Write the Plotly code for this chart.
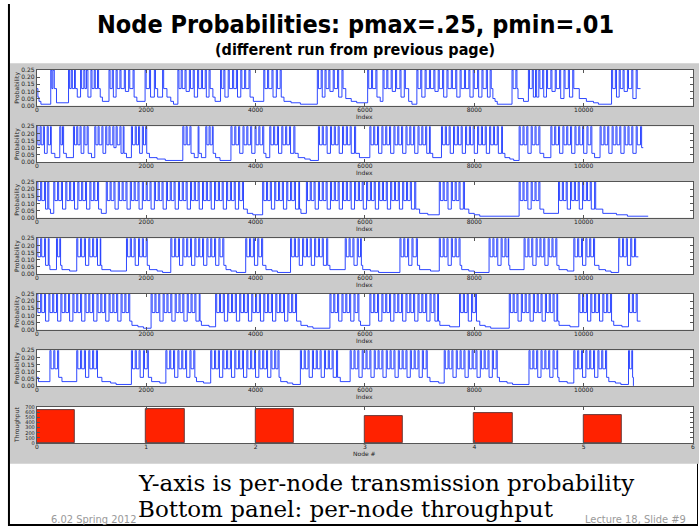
import plotly.graph_objects as go

# ---------------- data ----------------
# each node: list of (index, probability) step points
node1 = [(0,0.12),(20,0.06),(40,0.03),(75,0.01),
 (255,0.25),(275,0.12),(295,0.25),(320,0.12),(360,0.02),
 (580,0.25),(600,0.12),(630,0.25),(650,0.12),(690,0.25),(705,0.12),(740,0.06),(800,0.25),(820,0.12),(860,0.25),(880,0.12),(910,0.25),(935,0.06),(990,0.25),(1010,0.12),(1050,0.25),(1070,0.12),(1110,0.25),(1130,0.12),(1160,0.06),
 (1200,0.03),(1320,0.25),(1340,0.12),(1380,0.25),(1400,0.06),(1450,0.25),(1470,0.12),(1520,0.25),(1540,0.12),(1600,0.25),(1620,0.10),(1680,0.25),(1700,0.12),(1760,0.25),(1780,0.06),(1830,0.03),
 (1980,0.25),(2000,0.12),(2060,0.25),(2080,0.06),(2150,0.25),(2170,0.12),(2210,0.06),(2300,0.25),(2320,0.12),(2380,0.06),(2450,0.03),(2500,0.01),
 (2580,0.25),(2600,0.12),(2640,0.25),(2660,0.12),(2710,0.25),(2730,0.10),(2790,0.25),(2810,0.12),(2860,0.25),(2880,0.06),(2940,0.25),(2960,0.12),(3010,0.25),(3030,0.12),(3080,0.25),(3100,0.06),(3150,0.25),(3170,0.12),(3220,0.06),(3260,0.03),
 (3360,0.25),(3380,0.12),(3420,0.25),(3440,0.06),(3500,0.25),(3520,0.12),(3580,0.25),(3600,0.12),(3650,0.25),(3670,0.06),(3730,0.25),(3750,0.12),(3800,0.25),(3820,0.12),(3880,0.25),(3900,0.06),(3960,0.03),
 (4150,0.25),(4170,0.12),(4220,0.25),(4240,0.12),(4300,0.25),(4320,0.06),(4380,0.25),(4400,0.12),(4450,0.25),(4470,0.06),(4520,0.03),(4650,0.02),(4820,0.01),
 (5130,0.25),(5150,0.12),(5200,0.25),(5220,0.06),(5270,0.25),(5290,0.12),(5340,0.25),(5360,0.10),(5420,0.25),(5440,0.12),(5500,0.25),(5520,0.06),(5580,0.25),(5600,0.12),(5650,0.05),(5750,0.03),(5850,0.02),
 (6050,0.25),(6070,0.12),(6120,0.25),(6140,0.12),(6200,0.25),(6220,0.06),(6280,0.03),(6330,0.25),(6350,0.12),(6400,0.25),(6420,0.12),(6480,0.25),(6500,0.10),(6560,0.25),(6580,0.12),(6640,0.25),(6660,0.06),(6720,0.25),(6740,0.12),(6800,0.03),(6860,0.01),
 (6950,0.25),(6970,0.12),(7020,0.25),(7040,0.06),(7100,0.25),(7120,0.12),(7180,0.25),(7200,0.12),(7260,0.25),(7280,0.10),(7340,0.25),(7360,0.12),(7420,0.25),(7440,0.06),(7500,0.25),(7520,0.12),(7580,0.25),(7600,0.12),(7660,0.25),(7680,0.06),(7740,0.25),(7760,0.12),(7820,0.25),(7840,0.12),(7900,0.25),(7920,0.06),(7980,0.25),(8000,0.12),(8060,0.25),(8080,0.06),(8140,0.25),(8160,0.12),(8220,0.25),(8240,0.06),(8290,0.25),(8310,0.12),
 (8340,0.05),(8380,0.03),(8420,0.01),
 (8690,0.25),(8710,0.12),(8760,0.25),(8780,0.12),(8800,0.05),(8900,0.03),(8990,0.25),(9010,0.12),(9060,0.25),(9080,0.06),(9120,0.25),(9140,0.06),
 (9180,0.25),(9200,0.12),(9250,0.25),(9270,0.06),(9320,0.25),(9340,0.12),(9400,0.25),(9420,0.10),(9480,0.25),(9500,0.12),(9560,0.25),(9580,0.05),(9640,0.25),(9660,0.12),(9720,0.25),(9740,0.06),(9800,0.25),(9820,0.12),(9920,0.05),(10050,0.03),(10180,0.02),(10270,0.01),
 (10510,0.25),(10530,0.12),(10580,0.25),(10600,0.06),(10650,0.25),(10670,0.12),(10720,0.25),(10740,0.10),(10800,0.25),(10820,0.12),(10880,0.25),(10900,0.05),(10960,0.25),(10980,0.12),(11040,0.12)]

node2 = [(0,.25),(20,.12),(60,.25),(80,.12),(120,.25),(140,.06),(190,.25),(210,.12),(250,.25),(265,.06),(330,.03),
 (420,.25),(440,.12),(470,.25),(490,.06),(540,.03),
 (670,.25),(690,.12),(730,.25),(750,.12),(790,.25),(810,.06),(860,.25),(880,.12),(920,.25),(940,.06),(1000,.03),
 (1060,.25),(1080,.12),(1120,.25),(1140,.12),(1190,.25),(1210,.06),(1260,.25),(1280,.12),(1320,.25),(1340,.12),(1390,.25),(1410,.10),(1450,.25),(1470,.12),(1520,.25),(1540,.06),(1580,.25),(1595,.06),(1640,.03),
 (1730,.25),(1750,.12),(1800,.25),(1820,.12),(1860,.25),(1880,.06),(1930,.25),(1950,.12),(1990,.25),(2010,.06),
 (2060,.03),(2200,.02),(2350,.01),
 (2670,.25),(2690,.12),(2730,.25),(2750,.12),(2800,.25),(2820,.06),(2880,.03),(2950,.25),(2965,.06),(3010,.03),
 (3090,.25),(3110,.12),(3150,.25),(3170,.12),(3210,.25),(3225,.06),(3270,.03),(3350,.01),
 (3550,.25),(3570,.12),(3620,.25),(3640,.12),(3690,.25),(3710,.06),(3770,.25),(3790,.12),(3840,.25),(3860,.12),(3910,.25),(3930,.06),(3990,.25),(4010,.12),(4060,.25),(4080,.12),(4130,.25),(4150,.06),(4190,.03),(4260,.25),(4280,.12),(4330,.25),(4350,.12),(4400,.25),(4420,.06),(4480,.25),(4500,.12),(4550,.25),(4570,.12),(4620,.25),(4640,.06),(4700,.25),(4720,.06),
 (4780,.03),(4900,.02),(5000,.01),
 (5150,.25),(5170,.12),(5220,.25),(5240,.12),(5290,.25),(5310,.06),(5370,.25),(5390,.12),(5440,.25),(5460,.12),(5510,.25),(5530,.06),(5590,.25),(5610,.12),(5660,.25),(5680,.12),(5730,.25),(5750,.06),(5810,.25),(5830,.06),(5900,.03),
 (6090,.25),(6110,.12),(6160,.25),(6180,.12),(6230,.25),(6250,.06),(6310,.25),(6330,.12),(6380,.25),(6400,.12),(6450,.25),(6470,.06),(6530,.25),(6550,.12),(6600,.25),(6620,.12),(6670,.25),(6690,.06),(6750,.25),(6770,.12),(6820,.25),(6840,.12),(6890,.25),(6910,.06),(6970,.25),(6990,.12),(7040,.25),(7060,.12),(7110,.25),(7130,.06),(7180,.25),(7195,.06),(7240,.03),
 (7400,.25),(7420,.12),(7470,.25),(7490,.12),(7540,.25),(7560,.06),(7620,.25),(7640,.12),(7690,.25),(7710,.12),(7760,.25),(7780,.06),(7840,.25),(7860,.12),(7910,.25),(7930,.12),(7980,.25),(8000,.06),(8060,.25),(8080,.12),(8130,.25),(8150,.12),(8200,.25),(8220,.06),(8280,.25),(8300,.12),(8350,.25),(8370,.12),(8420,.25),(8440,.06),(8500,.25),(8515,.06),
 (8560,.03),(8650,.02),(8720,.01),
 (8820,.25),(8840,.12),(8890,.25),(8910,.12),(8960,.25),(8980,.06),(9040,.25),(9060,.12),(9110,.25),(9130,.12),(9180,.25),(9200,.06),(9270,.03),
 (9400,.25),(9420,.12),(9470,.25),(9490,.12),(9540,.25),(9560,.06),(9620,.25),(9640,.12),(9690,.25),(9710,.12),(9760,.25),(9780,.06),(9840,.25),(9860,.12),(9910,.25),(9930,.12),(9980,.25),(10000,.06),(10060,.25),(10080,.12),(10130,.25),(10150,.06),(10200,.03),
 (10300,.25),(10320,.12),(10370,.25),(10390,.12),(10440,.25),(10460,.06),(10520,.25),(10540,.12),(10590,.25),(10610,.12),(10660,.25),(10680,.06),(10740,.25),(10760,.12),(10810,.25),(10830,.12),(10880,.25),(10900,.06),(10960,.25),(10980,.12),(11040,.25),(11060,.10),(11090,.10)]

node3 = [(0,.25),(20,.12),(70,.25),(90,.12),(140,.25),(160,.06),(200,.25),(220,.06),(250,.03),
 (310,.25),(330,.12),(380,.25),(400,.12),(450,.25),(470,.06),(530,.25),(550,.12),(600,.25),(620,.12),(670,.25),(690,.06),(750,.25),(770,.12),(820,.25),(840,.12),(890,.25),(910,.06),(970,.25),(990,.12),(1040,.25),(1060,.12),(1110,.25),(1130,.06),(1180,.03),
 (1270,.25),(1290,.12),(1340,.25),(1360,.12),(1410,.25),(1430,.06),(1490,.25),(1510,.12),(1560,.25),(1580,.12),(1630,.25),(1650,.06),(1710,.25),(1730,.12),(1780,.25),(1800,.12),(1850,.25),(1870,.06),(1930,.25),(1950,.12),(2000,.25),(2020,.12),(2070,.25),(2090,.06),(2150,.25),(2170,.12),(2220,.25),(2240,.12),(2290,.25),(2310,.06),(2370,.25),(2390,.12),(2440,.25),(2460,.12),(2510,.25),(2530,.06),(2590,.25),(2610,.12),(2660,.25),(2680,.12),(2730,.25),(2750,.06),(2810,.25),(2830,.12),(2880,.25),(2900,.12),(2950,.25),(2970,.06),(3030,.25),(3050,.12),(3100,.25),(3120,.12),(3170,.25),(3190,.06),(3250,.25),(3270,.12),(3320,.25),(3340,.12),(3390,.25),(3410,.06),(3470,.25),(3490,.12),(3540,.25),(3560,.12),(3610,.25),(3630,.06),(3690,.25),(3710,.12),(3760,.25),(3780,.06),
 (3850,.03),(3950,.02),
 (4130,.25),(4150,.12),(4200,.25),(4220,.12),(4270,.25),(4290,.06),(4350,.25),(4370,.12),(4420,.25),(4440,.12),(4490,.25),(4510,.06),(4570,.25),(4590,.12),(4640,.25),(4660,.12),(4710,.25),(4730,.06),(4790,.25),(4805,.06),(4830,.03),
 (4930,.25),(4950,.12),(5000,.25),(5020,.12),(5070,.25),(5090,.06),(5150,.25),(5170,.12),(5220,.25),(5240,.12),(5290,.25),(5310,.06),(5370,.25),(5390,.12),(5440,.25),(5460,.12),(5510,.25),(5530,.06),(5590,.25),(5610,.12),(5660,.25),(5680,.12),(5730,.25),(5750,.06),(5810,.25),(5830,.12),(5880,.25),(5900,.12),(5950,.25),(5970,.06),(6030,.25),(6050,.12),(6100,.25),(6120,.12),(6170,.25),(6190,.06),(6250,.25),(6270,.12),(6320,.25),(6340,.12),(6390,.25),(6410,.06),(6470,.25),(6490,.12),(6540,.25),(6560,.12),(6610,.25),(6630,.06),(6690,.25),(6710,.12),(6760,.25),(6780,.12),(6830,.25),(6850,.06),(6910,.25),(6930,.06),
 (7000,.03),(7150,.02),
 (7360,.25),(7380,.12),(7430,.25),(7450,.12),(7500,.25),(7520,.06),(7580,.25),(7600,.12),(7650,.25),(7670,.12),(7720,.25),(7740,.06),(7800,.25),(7820,.06),
 (7900,.03),(8000,.02),(8100,.01),
 (8820,.25),(8840,.12),(8890,.25),(8910,.12),(8960,.25),(8980,.06),(9040,.25),(9060,.12),(9110,.25),(9130,.12),(9180,.25),(9200,.06),(9270,.03),
 (9540,.25),(9560,.12),(9610,.25),(9630,.12),(9680,.25),(9700,.06),(9760,.25),(9780,.12),(9830,.25),(9850,.12),(9900,.25),(9920,.06),(9980,.25),(10000,.12),(10050,.25),(10070,.12),(10120,.25),(10140,.06),(10200,.25),(10220,.06),
 (10350,.03),(10600,.02),(10800,.01),(11180,.01)]

node4 = [(0,.25),(20,.12),(70,.25),(90,.12),(140,.25),(160,.06),(210,.25),(225,.06),(240,.03),
 (360,.25),(380,.12),(420,.25),(435,.06),(460,.03),(600,.02),
 (730,.25),(750,.12),(800,.25),(820,.12),(870,.25),(890,.06),(950,.25),(970,.12),(1020,.25),(1040,.12),(1090,.25),(1110,.06),(1160,.25),(1170,.06),
 (1190,.03),(1350,.02),
 (1640,.25),(1660,.12),(1710,.25),(1730,.12),(1780,.25),(1800,.06),(1860,.25),(1880,.12),(1930,.25),(1950,.12),(2000,.25),(2020,.06),
 (2060,.03),(2200,.02),(2300,.01),
 (2450,.25),(2470,.12),(2520,.25),(2540,.12),(2590,.25),(2610,.06),(2670,.25),(2690,.12),(2740,.25),(2760,.12),(2810,.25),(2830,.06),(2890,.25),(2910,.12),(2960,.25),(2980,.12),(3030,.25),(3050,.06),(3110,.25),(3130,.12),(3180,.25),(3200,.12),(3250,.25),(3270,.06),(3330,.25),(3350,.12),(3400,.25),(3420,.06),
 (3460,.03),(3550,.02),(3650,.01),
 (3820,.25),(3840,.12),(3890,.25),(3910,.12),(3960,.25),(3980,.06),(4040,.25),(4060,.12),(4110,.25),(4130,.06),
 (4190,.03),(4300,.02),(4400,.01),
 (4640,.25),(4660,.12),(4710,.25),(4730,.12),(4780,.25),(4800,.06),(4860,.25),(4880,.12),(4930,.25),(4950,.12),(5000,.25),(5020,.06),(5080,.25),(5100,.12),(5150,.25),(5170,.12),(5220,.25),(5240,.06),(5300,.25),(5320,.06),(5360,.03),
 (5640,.25),(5660,.12),(5710,.25),(5730,.12),(5780,.25),(5800,.06),(5860,.25),(5880,.12),(5920,.25),(5935,.06),
 (5960,.03),(6100,.02),(6250,.01),
 (6640,.25),(6660,.12),(6710,.25),(6730,.12),(6780,.25),(6800,.06),(6860,.25),(6880,.12),(6940,.25),(6960,.06),(7000,.03),(7200,.02),
 (7360,.25),(7380,.12),(7430,.25),(7450,.12),(7500,.25),(7520,.06),(7580,.25),(7600,.12),(7650,.25),(7670,.12),(7720,.25),(7740,.06),
 (7770,.03),(7900,.02),(8000,.01),
 (8270,.25),(8290,.12),(8340,.25),(8360,.12),(8410,.25),(8430,.06),(8490,.25),(8510,.12),(8560,.25),(8580,.12),(8620,.25),(8630,.06),(8650,.03),
 (8910,.25),(8930,.12),(8980,.25),(9000,.12),(9050,.25),(9070,.06),(9130,.25),(9150,.12),(9200,.25),(9220,.12),(9270,.25),(9290,.06),(9350,.25),(9370,.12),(9420,.25),(9440,.12),(9490,.25),(9510,.06),
 (9550,.03),(9700,.02),
 (9820,.25),(9840,.12),(9890,.25),(9910,.12),(9960,.25),(9980,.06),(10040,.25),(10060,.12),(10110,.25),(10130,.12),(10180,.25),(10200,.06),
 (10280,.03),(10400,.02),(10500,.01),
 (10640,.25),(10660,.12),(10710,.25),(10730,.12),(10780,.25),(10800,.06),(10860,.25),(10880,.12),(10930,.25),(10950,.12),(11000,.12)]

node5 = [(0,.25),(20,.12),(70,.25),(90,.12),(140,.25),(160,.06),(220,.25),(240,.12),(290,.25),(310,.12),(360,.25),(380,.06),(440,.25),(460,.12),(510,.25),(530,.12),(580,.25),(600,.06),(660,.25),(680,.12),(730,.25),(750,.12),(800,.25),(820,.06),(880,.25),(900,.12),(950,.25),(970,.12),(1020,.25),(1040,.06),(1100,.25),(1120,.12),(1170,.25),(1190,.12),(1240,.25),(1260,.06),(1320,.25),(1340,.12),(1390,.25),(1410,.12),(1460,.25),(1480,.06),(1540,.25),(1560,.12),(1610,.25),(1630,.12),(1680,.25),(1700,.06),
 (1740,.03),(1850,.02),(1950,.01),
 (2090,.25),(2110,.12),(2160,.25),(2180,.12),(2230,.25),(2250,.06),(2310,.25),(2330,.12),(2380,.25),(2400,.12),(2450,.25),(2470,.06),(2530,.25),(2550,.12),(2600,.25),(2620,.12),(2670,.25),(2690,.06),(2750,.25),(2770,.12),(2820,.25),(2840,.12),(2890,.25),(2910,.06),(2970,.25),(2985,.06),
 (3010,.03),(3150,.02),
 (3270,.25),(3290,.12),(3340,.25),(3360,.12),(3410,.25),(3430,.06),(3490,.25),(3510,.12),(3560,.25),(3580,.12),(3630,.25),(3650,.06),(3710,.25),(3730,.12),(3780,.25),(3800,.12),(3850,.25),(3870,.06),(3930,.25),(3950,.12),(4000,.25),(4020,.12),(4070,.25),(4090,.06),(4150,.25),(4170,.12),(4220,.25),(4240,.12),(4290,.25),(4310,.06),(4370,.25),(4390,.12),(4440,.25),(4460,.12),(4510,.25),(4530,.06),(4590,.25),(4610,.12),(4660,.25),(4680,.12),(4730,.25),(4750,.06),
 (4830,.03),(4950,.02),(5050,.01),
 (5360,.25),(5380,.12),(5430,.25),(5450,.12),(5500,.25),(5520,.06),(5580,.25),(5600,.12),(5650,.25),(5670,.12),(5720,.25),(5740,.06),(5800,.25),(5820,.12),(5870,.25),(5890,.06),(5920,.03),
 (6090,.25),(6110,.12),(6160,.25),(6180,.12),(6230,.25),(6250,.06),(6310,.25),(6330,.12),(6380,.25),(6400,.12),(6450,.25),(6470,.06),(6530,.25),(6550,.12),(6600,.25),(6620,.12),(6670,.25),(6690,.06),(6750,.25),(6770,.12),(6820,.25),(6840,.12),(6890,.25),(6910,.06),(6970,.25),(6990,.12),(7040,.25),(7060,.12),(7110,.25),(7130,.06),(7190,.25),(7210,.12),(7260,.25),(7280,.06),(7330,.25),(7345,.06),
 (7370,.03),(7550,.02),
 (7730,.25),(7750,.12),(7800,.25),(7820,.12),(7870,.25),(7890,.06),(7950,.25),(7970,.12),(8020,.25),(8040,.06),
 (8100,.03),(8200,.02),(8300,.01),
 (8640,.25),(8660,.12),(8710,.25),(8730,.12),(8780,.25),(8800,.06),(8860,.25),(8880,.12),(8930,.25),(8950,.12),(9000,.25),(9020,.06),(9080,.25),(9100,.12),(9150,.25),(9170,.12),(9220,.25),(9240,.06),(9300,.25),(9320,.12),(9370,.25),(9390,.12),(9440,.25),(9460,.06),(9510,.25),(9525,.06),
 (9550,.03),(9750,.02),
 (9910,.25),(9930,.12),(9980,.25),(10000,.12),(10050,.25),(10070,.06),(10130,.25),(10150,.12),(10200,.25),(10220,.12),(10270,.25),(10290,.06),(10350,.25),(10370,.12),(10420,.25),(10440,.12),(10490,.25),(10510,.06),
 (10550,.03),(10700,.02),
 (10820,.25),(10840,.12),(10890,.25),(10910,.12),(10960,.25),(10980,.06),(11040,.06)]

node6 = [(0,.06),(30,.03),
 (240,.25),(260,.12),(310,.25),(330,.12),(380,.25),(400,.06),(460,.03),
 (730,.25),(750,.12),(800,.25),(820,.12),(870,.25),(890,.06),(950,.25),(970,.12),(1020,.25),(1040,.12),(1090,.25),(1110,.06),
 (1190,.03),(1350,.02),(1450,.01),
 (1730,.25),(1750,.12),(1800,.25),(1820,.12),(1870,.25),(1890,.06),(1950,.25),(1970,.12),(2020,.25),(2040,.06),
 (2100,.03),(2250,.02),
 (2360,.25),(2380,.12),(2430,.25),(2450,.12),(2500,.25),(2520,.06),(2580,.25),(2600,.12),(2650,.25),(2670,.12),(2720,.25),(2740,.06),(2800,.25),(2820,.12),(2870,.25),(2890,.06),
 (2920,.03),(3050,.02),
 (3180,.25),(3200,.12),(3250,.25),(3270,.12),(3320,.25),(3340,.06),(3400,.25),(3420,.12),(3470,.25),(3490,.12),(3540,.25),(3560,.06),(3620,.25),(3640,.12),(3690,.25),(3710,.12),(3760,.25),(3780,.06),(3840,.25),(3860,.12),(3910,.25),(3930,.12),(3980,.25),(4000,.06),(4060,.25),(4080,.12),(4130,.25),(4150,.12),(4200,.25),(4220,.06),(4280,.25),(4300,.12),(4350,.25),(4370,.12),(4410,.25),(4430,.06),
 (4460,.03),(4580,.02),(4680,.01),
 (4820,.25),(4840,.12),(4890,.25),(4910,.12),(4960,.25),(4980,.06),(5040,.25),(5060,.12),(5110,.25),(5130,.12),(5180,.25),(5200,.06),(5260,.25),(5280,.12),(5330,.25),(5350,.12),(5400,.25),(5420,.06),(5480,.25),(5500,.06),(5550,.03),
 (5730,.25),(5750,.12),(5800,.25),(5820,.12),(5870,.25),(5890,.06),(5950,.25),(5970,.12),(6020,.25),(6040,.12),(6090,.25),(6110,.06),(6170,.25),(6190,.12),(6240,.25),(6260,.12),(6310,.25),(6330,.06),(6390,.25),(6410,.12),(6460,.25),(6480,.12),(6530,.25),(6550,.06),(6610,.25),(6630,.12),(6680,.25),(6700,.12),(6750,.25),(6770,.06),(6830,.25),(6850,.12),(6900,.25),(6920,.12),(6970,.25),(6990,.06),(7050,.25),(7070,.12),(7120,.25),(7140,.06),
 (7190,.03),(7350,.02),
 (7450,.25),(7470,.12),(7520,.25),(7540,.12),(7590,.25),(7610,.06),(7670,.25),(7690,.12),(7740,.25),(7760,.12),(7810,.25),(7830,.06),(7890,.25),(7910,.12),(7960,.25),(7980,.12),(8030,.25),(8050,.06),(8110,.25),(8130,.12),(8180,.25),(8200,.12),(8250,.25),(8270,.06),(8330,.25),(8350,.12),(8400,.25),(8420,.06),
 (8460,.03),(8600,.02),(8700,.01),
 (9000,.25),(9020,.12),(9070,.25),(9090,.12),(9140,.25),(9160,.06),(9220,.25),(9240,.12),(9290,.25),(9310,.12),(9360,.25),(9380,.06),(9440,.25),(9460,.12),(9510,.25),(9525,.06),
 (9550,.03),(9700,.02),
 (9820,.25),(9840,.12),(9890,.25),(9910,.12),(9960,.25),(9980,.06),(10040,.25),(10060,.12),(10110,.25),(10130,.12),(10180,.25),(10200,.06),(10260,.25),(10280,.12),(10330,.25),(10350,.12),(10400,.25),(10420,.06),
 (10460,.03),(10580,.02),(10680,.01),
 (10820,.25),(10840,.12),(10880,.25),(10895,.06),(10910,0.0)]

nodes = [node1, node2, node3, node4, node5, node6]

node_ids = [0, 1, 2, 3, 4, 5]
throughput = [645, 660, 655, 520, 590, 540]

x_ticks = [0, 2000, 4000, 6000, 8000, 10000, 12000]
p_ticks = [0.00, 0.05, 0.10, 0.15, 0.20, 0.25]
thr_ticks = [0, 100, 200, 300, 400, 500, 600, 700]
node_ticks = [0, 1, 2, 3, 4, 5, 6]

title = "Node Probabilities: pmax=.25, pmin=.01"
subtitle = "(different run from previous page)"
line1 = "Y-axis is per-node transmission probability"
line2 = "Bottom panel: per-node throughput"
footer_left = "6.02 Spring 2012"
footer_right = "Lecture 18, Slide #9"

# ---------------- layout helpers ----------------
W, H = 700, 529
def px(x): return x / W
def py(y): return 1 - y / H

X0, X1 = 35, 695
panel_tops = [67, 124, 180.5, 237.5, 294, 351]
panel_h = 36
bar_top, bar_bot = 408.5, 445

fig = go.Figure()
shapes = []
annotations = []

shapes.append(dict(type="rect", xref="paper", yref="paper", x0=px(8), x1=px(701),
                   y0=py(466), y1=py(60), fillcolor="#cbcbcb", line_width=0, layer="below"))
shapes.append(dict(type="line", xref="paper", yref="paper", x0=px(7), x1=px(7),
                   y0=py(0), y1=py(529), line=dict(color="black", width=2)))
shapes.append(dict(type="line", xref="paper", yref="paper", x0=px(7), x1=px(700),
                   y0=py(528), y1=py(528), line=dict(color="black", width=2)))
shapes.append(dict(type="line", xref="paper", yref="paper", x0=px(699.5), x1=px(699.5),
                   y0=py(466), y1=py(529), line=dict(color="black", width=1)))

tick_font = dict(family="DejaVu Sans", size=6, color="#222")
small_font = dict(family="DejaVu Sans", size=6, color="#222")
ax_line = "#555"

def ann(x, y, text, font, xanchor="center", yanchor="middle", angle=0):
    return dict(xref="paper", yref="paper", x=px(x), y=py(y), text=text, showarrow=False,
                xanchor=xanchor, yanchor=yanchor, textangle=angle, font=font)

def axis_common():
    return dict(ticks="inside", ticklen=3, tickcolor=ax_line, mirror="ticks",
                showline=True, linecolor=ax_line, linewidth=1, showgrid=False,
                zeroline=False, fixedrange=True)

layout_axes = {}
for i, data in enumerate(nodes):
    k = i + 1
    top = panel_tops[i]
    bot = top + panel_h
    shapes.append(dict(type="rect", xref="paper", yref="paper", x0=px(X0), x1=px(X1),
                       y0=py(bot), y1=py(top), fillcolor="white", line_width=0, layer="below"))
    xs = [d[0] for d in data]
    ys = [d[1] for d in data]
    fig.add_trace(go.Scatter(x=xs, y=ys, mode="lines",
                             line=dict(color="rgba(10,40,255,0.85)", width=1, shape="hv"),
                             xaxis=f"x{k}", yaxis=f"y{k}", showlegend=False, hoverinfo="skip"))
    layout_axes[f"xaxis{k}"] = dict(domain=[px(X0), px(X1)], anchor=f"y{k}", range=[0, 12000],
                                    tickmode="array", tickvals=x_ticks, ticktext=[str(v) for v in x_ticks],
                                    tickfont=tick_font, ticklabelstandoff=-2, **axis_common())
    layout_axes[f"yaxis{k}"] = dict(domain=[py(bot), py(top)], anchor=f"x{k}", range=[0, 0.25],
                                    tickmode="array", tickvals=p_ticks, ticktext=[f"{v:.2f}" for v in p_ticks],
                                    tickfont=tick_font, **axis_common())
    annotations.append(ann(365, bot + 11, "Index", small_font))
    annotations.append(ann(15, (top + bot) / 2, "Probability", small_font, angle=-90))

kb = 7
shapes.append(dict(type="rect", xref="paper", yref="paper", x0=px(X0), x1=px(X1),
                   y0=py(bar_bot), y1=py(bar_top), fillcolor="white", line_width=0, layer="below"))
fig.add_trace(go.Bar(x=node_ids, y=throughput, width=0.35, offset=0,
                     marker=dict(color="#ff2200", line=dict(color="#6a3a3a", width=1)),
                     xaxis=f"x{kb}", yaxis=f"y{kb}", showlegend=False, hoverinfo="skip"))
layout_axes[f"xaxis{kb}"] = dict(domain=[px(X0), px(X1)], anchor=f"y{kb}", range=[0, 6],
                                 tickmode="array", tickvals=node_ticks, ticktext=[str(v) for v in node_ticks],
                                 tickfont=tick_font, ticklabelstandoff=-2, **axis_common())
layout_axes[f"yaxis{kb}"] = dict(domain=[py(bar_bot), py(bar_top)], anchor=f"x{kb}", range=[0, 700],
                                 tickmode="array", tickvals=thr_ticks, ticktext=[str(v) for v in thr_ticks],
                                 tickfont=dict(family="DejaVu Sans", size=5, color="#222"), **axis_common())
annotations.append(ann(365, bar_bot + 11, "Node #", small_font))
annotations.append(ann(15, (bar_top + bar_bot) / 2, "Throughput", small_font, angle=-90))

cond = "DejaVu Sans Condensed, DejaVu Sans"
annotations += [
    ann(356, 21, f"<b>{title}</b>", dict(family=cond, size=25, color="black")),
    ann(355, 46, f"<b>{subtitle}</b>", dict(family=cond, size=16, color="black")),
    ann(135, 485, line1, dict(family="DejaVu Serif", size=23, color="black"), xanchor="left"),
    ann(135, 512, line2, dict(family="DejaVu Serif", size=23, color="black"), xanchor="left"),
    ann(47, 522, footer_left, dict(family=cond, size=11, color="#9a9a9a"), xanchor="left"),
    ann(690, 522, footer_right, dict(family=cond, size=11, color="#9a9a9a"), xanchor="right"),
]

fig.update_layout(width=W, height=H, margin=dict(l=0, r=0, t=0, b=0),
                  paper_bgcolor="white", plot_bgcolor="rgba(0,0,0,0)",
                  shapes=shapes, annotations=annotations, bargap=0, **layout_axes)

fig.write_html("out.html", config=dict(displayModeBar=False))
